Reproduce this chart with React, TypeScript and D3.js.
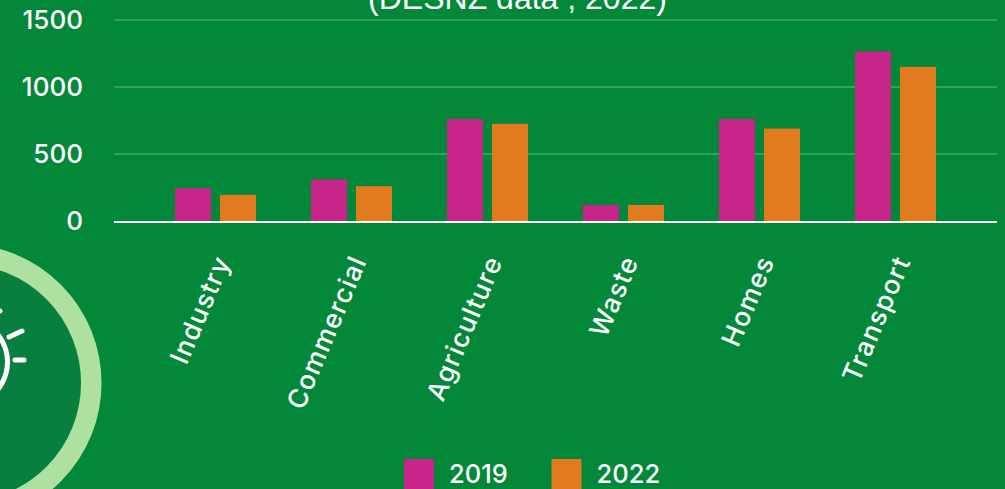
import React from "react";
import * as d3 from "d3";

const categories = ["Industry", "Commercial", "Agriculture", "Waste", "Homes", "Transport"];
const values2019 = [245, 310, 760, 120, 760, 1265];
const values2022 = [195, 260, 725, 120, 690, 1150];
const yTicks = [0, 500, 1000, 1500];
const seriesNames = ["2019", "2022"];
const seriesColors = ["#c8258a", "#e27a20"];
const titleText = "(DESNZ data , 2022)";

const W = 1005, H = 489;
const LABEL_FONT = "Inter, sans-serif";

export default function App() {
  const y = d3.scaleLinear().domain([0, 1500]).range([221, 20]);
  const x = d3.scaleBand<string>().domain(categories).range([147.5, 963.5]).padding(0);
  const barW = 36, gap = 9;
  const groupW = barW * 2 + gap;
  const series = [values2019, values2022];
  const ringC = { x: -37.7, y: 383 };
  const bulb = d3.arc()({ innerRadius: 41, outerRadius: 46, startAngle: 0.5, endAngle: 2.6 } as any) as string;
  return (
    <svg width={W} height={H} viewBox={`0 0 ${W} ${H}`} style={{ position: "fixed", left: 0, top: 0, display: "block" }}>
      <rect width={W} height={H} fill="#038839" />
      <circle cx={ringC.x} cy={ringC.y} r={129} fill="#097f3f" stroke="#aee0a2" strokeWidth={20.5} />
      <path d={bulb} transform="translate(-36,362)" fill="#fff" />
      <g stroke="#fff" strokeWidth={5} strokeLinecap="round">
        <line x1={9} y1={337} x2={22} y2={331} />
        <line x1={15} y1={360} x2={24} y2={360} />
        <line x1={-2} y1={312} x2={0} y2={311} />
      </g>
      <text x={517.5} y={9} textAnchor="middle" fontFamily="'Liberation Sans', Arial, sans-serif" fontSize={32} fill="#fff">{titleText}</text>
      {yTicks.filter(t => t > 0).map(t => (
        <line key={t} x1={114} x2={997} y1={y(t)} y2={y(t)} stroke="#fff" strokeOpacity={0.2} strokeWidth={2} />
      ))}
      {yTicks.map(t => (
        <text key={t} x={83} y={y(t)} dy="0.36em" textAnchor="end" fontFamily={LABEL_FONT} fontWeight={500} fontSize={26} fill="#fff">{t}</text>
      ))}
      {categories.map((c, i) => {
        const left = x(c)! + (x.bandwidth() - groupW) / 2;
        return (
          <g key={c}>
            {series.map((s, k) => (
              <rect key={k} x={left + k * (barW + gap)} y={y(s[i])} width={barW} height={y(0) - y(s[i])} fill={seriesColors[k]} />
            ))}
            <text transform={`translate(${x(c)! + x.bandwidth() / 2 + 9},258) rotate(-67)`} textAnchor="end" dominantBaseline="middle" fontFamily={LABEL_FONT} fontWeight={500} fontSize={26.5} letterSpacing={1.2} fill="#fff">{c}</text>
          </g>
        );
      })}
      <line x1={114} x2={997} y1={y(0) + 1} y2={y(0) + 1} stroke="#fff" strokeWidth={2} />
      {seriesNames.map((n, k) => {
        const lx = 404 + k * 147.5;
        return (
          <g key={n}>
            <rect x={lx} y={459} width={30} height={30} fill={seriesColors[k]} />
            <text x={lx + 45} y={483} fontFamily={LABEL_FONT} fontWeight={500} fontSize={25.5} fill="#fff">{n}</text>
          </g>
        );
      })}
    </svg>
  );
}
